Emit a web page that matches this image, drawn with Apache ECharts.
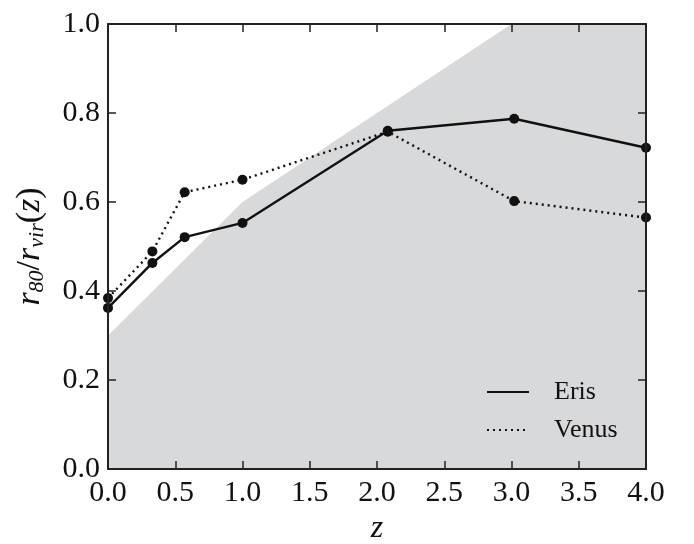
<!DOCTYPE html>
<html>
<head>
<meta charset="utf-8">
<script src="https://cdn.jsdelivr.net/npm/echarts@6/dist/echarts.min.js"></script>
<style>
  html, body { margin: 0; padding: 0; background: #fff; }
  #chart { width: 694px; height: 544px; }
</style>
</head>
<body>
<div id="chart"></div>
<script>
// redshift of each snapshot
var zVals = [0.0, 0.33, 0.57, 1.0, 2.08, 3.02, 4.0];
// r80 / rvir(z)
var erisVals = [0.362, 0.463, 0.521, 0.553, 0.760, 0.787, 0.722];
var venusVals = [0.384, 0.489, 0.622, 0.650, 0.758, 0.602, 0.565];
// grey shaded region (upper edge)
var shadeZ = [0.0, 1.0, 3.0, 4.0];
var shadeY = [0.3, 0.6, 1.0, 1.0];

var serif = 'Liberation Serif';

function pairs(xs, ys) {
	var out = [];
	for (var i = 0; i < xs.length; i++) {
		out.push([xs[i], ys[i]]);
	}
	return out;
}

var axisCommon = {
	type: 'value',
	z: 10,
	axisLine: { show: true, onZero: false, lineStyle: { color: '#222', width: 2 } },
	axisTick: { show: true, inside: true, length: 8, lineStyle: { color: '#222', width: 1.5 } },
	splitLine: { show: false }
};

function ax(extra) {
	var o = JSON.parse(JSON.stringify(axisCommon));
	for (var k in extra) o[k] = extra[k];
	return o;
}

var option = {
	animation: false,
	backgroundColor: '#fff',
	grid: { left: 108, right: 48, top: 24, bottom: 75, containLabel: false, outerBoundsMode: 'none' }
};

option.xAxis = [
	ax({
		position: 'bottom', min: 0, max: 4, interval: 0.5,
		axisLabel: { fontFamily: serif, fontSize: 30, color: '#111', margin: 9,
			formatter: function(v){ return v.toFixed(1); } },
		name: 'z', nameLocation: 'middle', nameGap: 40,
		nameTextStyle: { fontFamily: serif, fontSize: 32, fontStyle: 'italic', color: '#111' }
	}),
	ax({
		position: 'top', min: 0, max: 4, interval: 0.5,
		axisLabel: { show: false }
	})
];

option.yAxis = [
	ax({
		position: 'left', min: 0, max: 1, interval: 0.2,
		axisLabel: { fontFamily: serif, fontSize: 30, color: '#111', margin: 8,
			formatter: function(v){ return v.toFixed(1); } },
		name: '{i|r}{s|80}{n|/}{i|r}{s|vir}{n|(}{i|z}{n|)}',
		nameLocation: 'middle', nameGap: 60,
		nameTextStyle: {
			fontFamily: serif, fontSize: 32, color: '#111',
			rich: {
				i: { fontFamily: serif, fontSize: 34, fontStyle: 'italic', color: '#111' },
				n: { fontFamily: serif, fontSize: 34, color: '#111' },
				s: { fontFamily: serif, fontSize: 22, fontStyle: 'italic', color: '#111', padding: [14, 0, 0, 0] }
			}
		}
	}),
	ax({
		position: 'right', min: 0, max: 1, interval: 0.2,
		axisLabel: { show: false }
	})
];

option.legend = {
	data: ['Eris', 'Venus'],
	orient: 'vertical',
	left: 481,
	top: 374,
	itemWidth: 42,
	itemHeight: 14,
	itemGap: 12,
	itemStyle: { opacity: 0 },
	textStyle: { fontFamily: serif, fontSize: 26, color: '#111', padding: [0, 0, 0, 20] }
};

option.series = [
	{
		name: 'shade',
		type: 'line',
		data: pairs(shadeZ, shadeY),
		symbol: 'none',
		lineStyle: { width: 0, color: '#d8d9db' },
		areaStyle: { color: '#d8d9db', opacity: 1 },
		z: 1,
		silent: true
	},
	{
		name: 'Eris',
		type: 'line',
		data: pairs(zVals, erisVals),
		symbol: 'none',
		color: '#111',
		lineStyle: { color: '#111', width: 2.4, type: 'solid' },
		z: 3
	},
	{
		name: 'Venus',
		type: 'line',
		data: pairs(zVals, venusVals),
		symbol: 'none',
		color: '#111',
		lineStyle: { color: '#111', width: 2.4, type: [2, 4] },
		z: 3
	},
	{
		name: 'ErisPts',
		type: 'scatter',
		data: pairs(zVals, erisVals),
		symbolSize: 10,
		itemStyle: { color: '#111', opacity: 1 },
		z: 4
	},
	{
		name: 'VenusPts',
		type: 'scatter',
		data: pairs(zVals, venusVals),
		symbolSize: 10,
		itemStyle: { color: '#111', opacity: 1 },
		z: 4
	}
];

var chart = echarts.init(document.getElementById('chart'));
chart.setOption(option);
</script>
</body>
</html>
